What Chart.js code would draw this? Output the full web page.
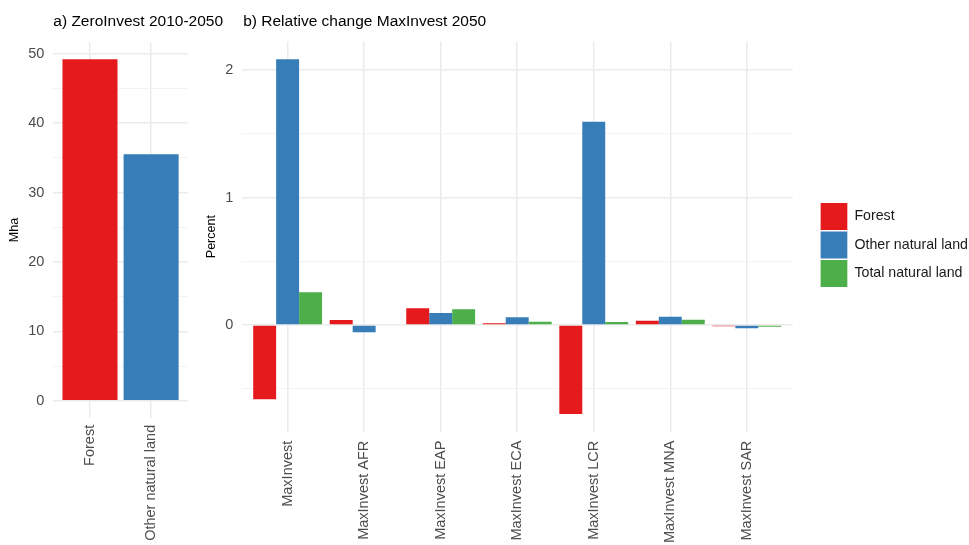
<!DOCTYPE html>
<html>
<head>
<meta charset="utf-8">
<title>ZeroInvest / MaxInvest natural land</title>
<script src="https://cdn.jsdelivr.net/npm/chart.js@4.4.1/dist/chart.umd.min.js"></script>
<style>
  html, body { margin: 0; padding: 0; background: #fff; overflow: hidden; }
  body { width: 969px; height: 545px; position: relative; }
  canvas { position: absolute; top: 0; }
</style>
</head>
<body>
<canvas id="zero" width="240" height="545" style="left:0"></canvas>
<canvas id="maxinv" width="790" height="545" style="left:196px"></canvas>
<script>
// a) ZeroInvest 2010-2050, Mha
const zeroCategories = ['Forest', 'Other natural land'];
const zeroValues = [49.2, 35.5];

// b) relative change MaxInvest 2050, percent
const regions = ['MaxInvest', 'MaxInvest AFR', 'MaxInvest EAP', 'MaxInvest ECA',
                 'MaxInvest LCR', 'MaxInvest MNA', 'MaxInvest SAR'];
const seriesNames = ['Forest', 'Other natural land', 'Total natural land'];
const forestChange = [-0.583, 0.039, 0.131, 0.013, -0.698, 0.034, -0.010];
const otherChange  = [2.084, -0.057, 0.094, 0.060, 1.595, 0.065, -0.026];
const totalChange  = [0.256, 0.005, 0.123, 0.026, 0.024, 0.042, -0.013];

const seriesColors = ['#E41A1C', '#377EB8', '#4DAF4A'];

const FONT = "'Liberation Sans', Arial, Helvetica, sans-serif";
const TICK_GREY = '#4d4d4d';
const GRID = '#ebebeb';
const GRID_MINOR = '#f2f2f2';

Chart.defaults.font.family = FONT;
Chart.defaults.color = TICK_GREY;

// ggplot-like 5% expansion around the data range (bars start at 0)
function expandRange(values) {
  const lo = Math.min(0, ...values);
  const hi = Math.max(0, ...values);
  const pad = (hi - lo) * 0.05;
  return [lo - pad, hi + pad];
}

function isMajor(value, step) {
  return Number.isInteger(Math.round((value / step) * 1000) / 1000);
}

function yGrid(majorStep) {
  return {
    drawTicks: false,
    color: (c) => (isMajor(c.tick.value, majorStep) ? GRID : GRID_MINOR),
    lineWidth: (c) => (isMajor(c.tick.value, majorStep) ? 1.5 : 0.9),
  };
}

function xAxis(labels, height, padding) {
  return {
    type: 'linear',
    min: -0.6,
    max: labels.length - 0.4,
    offset: false,
    grid: { color: GRID, lineWidth: 1.5, drawTicks: false, offset: false },
    border: { display: false },
    ticks: {
      stepSize: 1,
      includeBounds: false,
      autoSkip: false,
      minRotation: 90,
      maxRotation: 90,
      padding: padding,
      color: TICK_GREY,
      font: { size: 14.5 },
      callback: (v) => labels[v] ?? '',
    },
    afterFit: (s) => { s.height = height; },
  };
}

// panel title left-aligned on the plot panel, like ggplot's default
const panelTitle = {
  id: 'panelTitle',
  afterDraw(chart, args, opts) {
    const ctx = chart.ctx;
    ctx.save();
    ctx.font = '15.5px ' + FONT;
    ctx.fillStyle = '#000';
    ctx.textAlign = 'left';
    ctx.textBaseline = 'middle';
    ctx.fillText(opts.text, chart.chartArea.left + (opts.dx || 0), opts.y);
    ctx.restore();
  },
};

// ---- panel a ----
const [aMin, aMax] = expandRange(zeroValues);
new Chart(document.getElementById('zero'), {
  type: 'bar',
  data: {
    datasets: [{
      label: 'ZeroInvest',
      data: zeroValues.map((v, i) => ({ x: i, y: v })),
      backgroundColor: [seriesColors[0], seriesColors[1]],
      borderWidth: 0,
      categoryPercentage: 0.9,
      barPercentage: 1,
    }],
  },
  plugins: [panelTitle],
  options: {
    responsive: false,
    maintainAspectRatio: false,
    animation: false,
    layout: { padding: { top: 42.2, right: 52.2, bottom: 0, left: 0 } },
    plugins: {
      legend: { display: false },
      tooltip: { enabled: false },
      panelTitle: { text: 'a) ZeroInvest 2010-2050', y: 21.5, dx: 0 },
    },
    scales: {
      x: xAxis(zeroCategories, 127.2, 7),
      y: {
        min: aMin,
        max: aMax,
        grid: yGrid(10),
        border: { display: false },
        title: { display: true, text: 'Mha', color: '#000', font: { size: 12.5 }, padding: { top: 7.5, bottom: 0 } },
        ticks: {
          stepSize: 5,
          includeBounds: false,
          padding: 9,
          font: { size: 14.5 },
          callback: (v) => (v % 10 === 0 ? String(v) : ''),
        },
        afterFit: (s) => { s.width = 53.3; },
      },
    },
  },
});

// ---- panel b ----
const seriesData = [forestChange, otherChange, totalChange];
const [bMin, bMax] = expandRange([...forestChange, ...otherChange, ...totalChange]);

const legendPad = 1.5;
const legendLeft = 820.6 - 196 - legendPad;   // canvas coords of the legend box
const plotRight = 792.7 - 196;

const chartB = new Chart(document.getElementById('maxinv'), {
  type: 'bar',
  data: {
    datasets: seriesNames.map((name, k) => ({
      label: name,
      data: seriesData[k].map((v, i) => ({ x: i, y: v })),
      backgroundColor: seriesColors[k],
      borderWidth: 0,
      categoryPercentage: 0.9,
      barPercentage: 1,
    })),
  },
  plugins: [panelTitle],
  options: {
    responsive: false,
    maintainAspectRatio: false,
    animation: false,
    layout: { padding: { top: 41.6, right: 0, bottom: 0, left: 0 } },
    plugins: {
      tooltip: { enabled: false },
      panelTitle: { text: 'b) Relative change MaxInvest 2050', y: 21.5, dx: 1.5 },
      legend: {
        position: 'right',
        align: 'center',
        fullSize: false,
        maxWidth: 400,
        title: { display: true, text: '', font: { size: 12 }, padding: { top: 1.1, bottom: 1.1 } },
        labels: {
          boxWidth: 26.7,
          boxHeight: 27,
          padding: legendPad,
          color: '#1a1a1a',
          font: { size: 14.2 },
        },
      },
    },
    scales: {
      x: xAxis(regions, 113.3, 9),
      y: {
        min: bMin,
        max: bMax,
        grid: yGrid(1),
        border: { display: false },
        title: { display: true, text: 'Percent', color: '#000', font: { size: 12.5 }, padding: { top: 8.2, bottom: 0 } },
        ticks: {
          stepSize: 0.5,
          includeBounds: false,
          padding: 8.5,
          font: { size: 14.5 },
          callback: (v) => (Number.isInteger(v) ? String(v) : ''),
        },
        afterFit: (s) => { s.width = 45.7; },
      },
      // spacer between the panel and the legend
      gap: {
        type: 'linear',
        position: 'right',
        display: true,
        grid: { display: false, drawTicks: false },
        border: { display: false },
        ticks: { display: false },
        afterFit: (s) => { s.width = legendLeft - plotRight; },
      },
    },
  },
});

// the legend hugs the canvas's right edge: size the canvas so its keys land at x≈821
const shift = chartB.legend.left - legendLeft;
if (Math.abs(shift) > 0.5) {
  chartB.resize(Math.round(chartB.width - shift), 545);
  chartB.update('none');
}
</script>
</body>
</html>
